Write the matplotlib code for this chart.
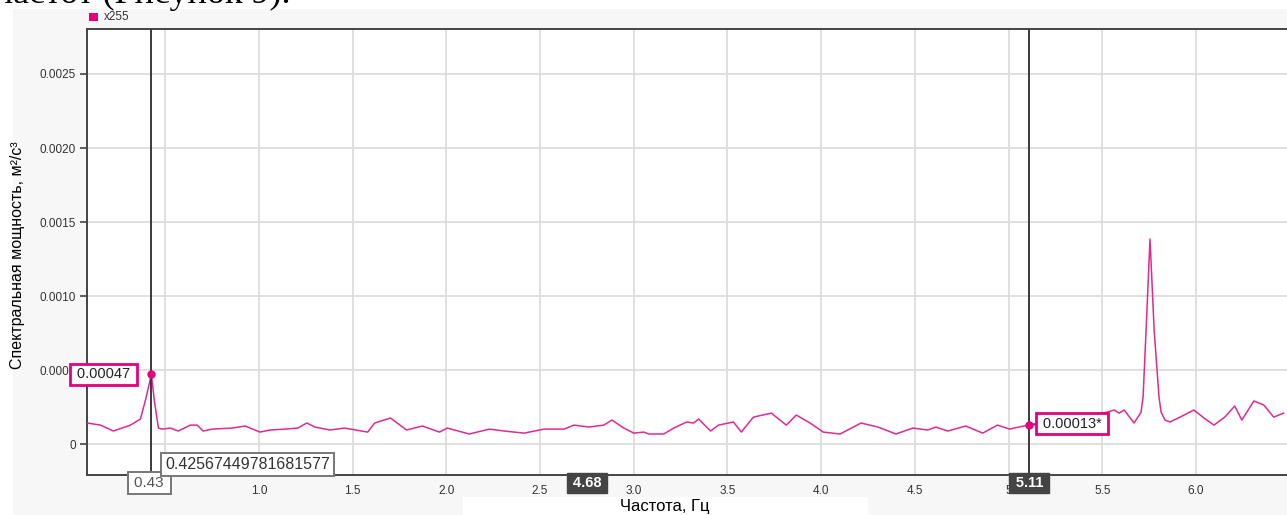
import matplotlib
matplotlib.use("Agg")
import matplotlib.pyplot as plt
from matplotlib.patches import Rectangle

# Spectrum of channel x255: frequency (Hz) and spectral power (m²/s³)
freq = [0.085, 0.154, 0.223, 0.314, 0.367, 0.394, 0.4257, 0.441, 0.463, 0.484,
        0.527, 0.569, 0.633, 0.670, 0.702, 0.750, 0.856, 0.926, 1.005, 1.059,
        1.138, 1.207, 1.255, 1.298, 1.378, 1.457, 1.580, 1.617, 1.702, 1.787,
        1.872, 1.963, 2.005, 2.122, 2.229, 2.309, 2.415, 2.521, 2.628, 2.681,
        2.761, 2.840, 2.883, 2.947, 3.000, 3.053, 3.080, 3.160, 3.213, 3.282,
        3.319, 3.346, 3.410, 3.452, 3.532, 3.574, 3.638, 3.734, 3.814, 3.867,
        3.941, 4.011, 4.101, 4.213, 4.303, 4.399, 4.489, 4.569, 4.612, 4.676,
        4.771, 4.862, 4.941, 5.005, 5.11, 5.20, 5.36, 5.527, 5.564, 5.590,
        5.617, 5.670, 5.707, 5.718, 5.734, 5.755, 5.777, 5.803, 5.814, 5.835,
        5.862, 5.915, 5.989, 6.043, 6.096, 6.154, 6.207, 6.245, 6.309, 6.362,
        6.415, 6.468]
power = [0.000142, 0.000128, 0.000088, 0.000128, 0.000169, 0.000297, 0.00047, 0.000297, 0.000108, 0.000101,
         0.000108, 0.000088, 0.000128, 0.000128, 0.000088, 0.000101, 0.000108, 0.000122, 0.000081, 0.000095,
         0.000101, 0.000108, 0.000142, 0.000115, 0.000095, 0.000108, 0.000081, 0.000142, 0.000176, 0.000095,
         0.000122, 0.000081, 0.000108, 0.000068, 0.000101, 0.000088, 0.000074, 0.000101, 0.000101, 0.000128,
         0.000115, 0.000128, 0.000162, 0.000108, 0.000074, 0.000081, 0.000068, 0.000068, 0.000108, 0.000149,
         0.000142, 0.000169, 0.000088, 0.000128, 0.000149, 0.000081, 0.000182, 0.000209, 0.000128, 0.000196,
         0.000142, 0.000081, 0.000068, 0.000142, 0.000115, 0.000068, 0.000108, 0.000095, 0.000115, 0.000088,
         0.000122, 0.000074, 0.000128, 0.000101, 0.00013, 0.000150, 0.000175, 0.000216, 0.000230, 0.000209,
         0.000230, 0.000142, 0.000216, 0.000318, 0.000770, 0.001385, 0.000770, 0.000318, 0.000216, 0.000162,
         0.000149, 0.000182, 0.000230, 0.000176, 0.000128, 0.000182, 0.000257, 0.000162, 0.000291, 0.000264,
         0.000182, 0.000209]

# Cursor readouts
cursor1_x, cursor1_y = 0.42567449781681577, 0.00047
cursor2_x, cursor2_y = 5.11, 0.00013
cursor1_x_label = "0.43"
cursor1_x_full = "0.42567449781681577"
cursor1_y_label = "0.00047"
cursor2_x_label = "5.11"
cursor2_y_label = "0.00013*"
span_label = "4.68"
span_label_x = 2.75

xticks = [0.5, 1.0, 1.5, 2.0, 2.5, 3.0, 3.5, 4.0, 4.5, 5.0, 5.5, 6.0]
xticklabels = ["", "1.0", "1.5", "2.0", "2.5", "3.0", "3.5", "4.0", "4.5", "5", "5.5", "6.0"]
yticks = [0, 0.0005, 0.0010, 0.0015, 0.0020, 0.0025]
yticklabels = ["0", "0.0005", "0.0010", "0.0015", "0.0020", "0.0025"]

series_name = "x255"
xlabel = "Частота, Гц"
ylabel = "Спектральная мощность, м²/с³"
caption = "частот (Рисунок 9)."

PINK = "#e5007d"
LINE = "#e02a92"
DARK = "#3a3a3a"
SANS = ["Liberation Sans", "DejaVu Sans"]


def padded(s):
    return "\u2009" + s + "\u2009"


W, H = 1287, 515
fig = plt.figure(figsize=(W / 100, H / 100), dpi=100)
fig.patch.set_facecolor("white")

# chart panel background and the white strip behind the axis title
fig.patches.append(Rectangle((13 / W, 0), 1 - 13 / W, (H - 9) / H,
                             transform=fig.transFigure, facecolor="#f7f7f7",
                             edgecolor="none", zorder=-2))
fig.patches.append(Rectangle((463 / W, 0), 405 / W, 18 / H,
                             transform=fig.transFigure, facecolor="white",
                             edgecolor="none", zorder=-1))

fig.text(-0.004, (H - 3) / H, caption, family=["Liberation Serif", "DejaVu Serif"],
         fontsize=26, va="baseline", ha="left", color="black")

ax = fig.add_axes([87 / W, 40 / H, 1200 / W, 446 / H])
ax.set_zorder(2)
ax.set_facecolor("white")
ax.set_xlim(0.082, 6.486)
ax.set_ylim(-0.000209, 0.002804)

ax.set_xticks(xticks)
ax.set_xticklabels(xticklabels)
ax.set_yticks(yticks)
ax.set_yticklabels(yticklabels)
ax.grid(True, color="#dddddd", linewidth=1.3)
ax.set_axisbelow(True)
ax.tick_params(axis="x", length=0, pad=7, labelsize=8.5, labelcolor="#333333")
ax.tick_params(axis="y", length=5, width=1.2, color="#444444", pad=3,
               labelsize=8.5, labelcolor="#333333")
for lab in ax.get_xticklabels() + ax.get_yticklabels():
    lab.set_family(SANS)

for side in ("left", "bottom", "top"):
    ax.spines[side].set_color("#444444")
    ax.spines[side].set_linewidth(1.4)
ax.spines["right"].set_visible(False)

ax.plot(freq, power, color=LINE, linewidth=1.1, zorder=3)

# cursors
for cx in (cursor1_x, cursor2_x):
    ax.axvline(cx, color=DARK, linewidth=1.4, zorder=4)
ax.plot([cursor1_x, cursor2_x], [cursor1_y, cursor2_y], "o", color=PINK,
        markersize=5, zorder=5)

box_pink = dict(boxstyle="square,pad=0.25", facecolor="white", edgecolor=PINK, linewidth=2.0)
ax.annotate(padded(cursor1_y_label), xy=(cursor1_x, cursor1_y), xytext=(-48, 0),
            textcoords="offset pixels", ha="center", va="center", fontsize=10.5,
            family=SANS, color="#222222",
            bbox=box_pink, zorder=6, annotation_clip=False)
ax.annotate(padded(cursor2_y_label), xy=(cursor2_x, cursor2_y), xytext=(43, 1),
            textcoords="offset pixels", ha="center", va="center", fontsize=10.5,
            family=SANS, color="#222222",
            bbox=box_pink, zorder=6, annotation_clip=False,
            arrowprops=dict(arrowstyle="-", color=PINK, linewidth=1.2,
                            shrinkA=0, shrinkB=0))

trans = ax.get_xaxis_transform()
box_grey = dict(boxstyle="square,pad=0.25", facecolor="white", edgecolor="#777777", linewidth=1.4)
ax.text(cursor1_x - 0.012, -0.0185, padded(cursor1_x_label), transform=trans,
        ha="center", va="center", fontsize=11, color="#555555", family=SANS,
        bbox=box_grey, zorder=7, clip_on=False)
ax.text(cursor1_x + 0.072, 0.0245, cursor1_x_full, transform=trans, ha="left", va="center",
        fontsize=11.5, color="#333333", family=SANS,
        bbox=box_grey, zorder=7, clip_on=False)

box_dark = dict(boxstyle="square,pad=0.22", facecolor="#444444", edgecolor="#444444")
ax.text(span_label_x, -0.018, padded(span_label), transform=trans, ha="center", va="center",
        fontsize=10.5, fontweight="bold", color="white",
        family=SANS, bbox=box_dark, zorder=7, clip_on=False)
ax.text(cursor2_x, -0.018, padded(cursor2_x_label), transform=trans, ha="center", va="center",
        fontsize=10.5, fontweight="bold", color="white",
        family=SANS, bbox=box_dark, zorder=7, clip_on=False)

# legend
fig.patches.append(Rectangle((89 / W, 1 - 21 / H), 9 / W, 8 / H, transform=fig.transFigure,
                             facecolor=PINK, edgecolor="none", zorder=3))
fig.text(104 / W, 1 - 17 / H, series_name, fontsize=8.5, va="center", ha="left",
         color="#333333", family=SANS)

fig.text(18 / W, 1 - 255 / H, ylabel, rotation=90, ha="center", va="center",
         fontsize=11.5, color="black",
         family=["Liberation Sans Narrow", "Liberation Sans", "DejaVu Sans"])
fig.text(665 / W, 1 - 507 / H, xlabel, ha="center", va="center", fontsize=12,
         color="black", family=SANS)

fig.savefig("out.png", dpi=100, facecolor=fig.get_facecolor())
